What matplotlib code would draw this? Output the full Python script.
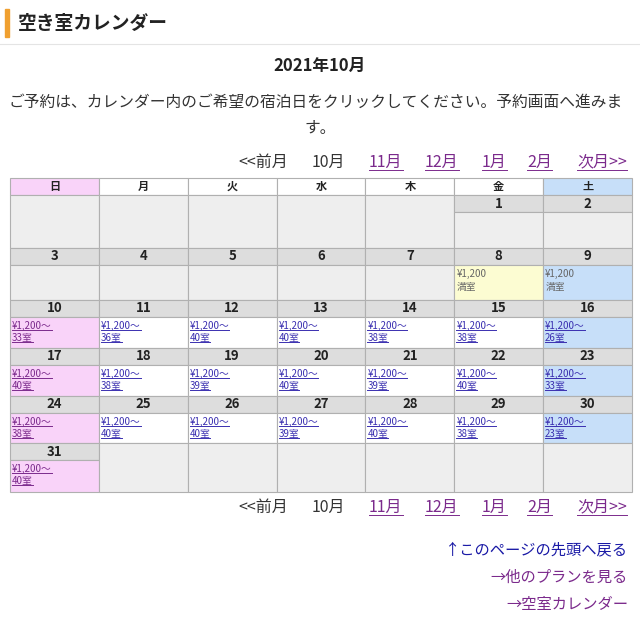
import matplotlib
matplotlib.use("Agg")
import matplotlib.pyplot as plt
from matplotlib.patches import Rectangle

plt.rcParams["font.family"] = "Noto Sans CJK JP"

TITLE = "空き室カレンダー"
MONTH = "2021年10月"
NOTE = ["ご予約は、カレンダー内のご希望の宿泊日をクリックしてください。予約画面へ進みま", "す。"]
WEEKDAYS = ["日", "月", "火", "水", "木", "金", "土"]
NAV_PLAIN = ["<<前月", "10月"]
NAV_LINKS = ["11月", "12月", "1月", "2月", "次月>>"]
DAYS = list(range(1, 32))
FIRST_COL = 5  # Oct 1 2021 is a Friday
PRICE = {8: "¥1,200", 9: "¥1,200"}
FULL_DAYS = [8, 9]
ROOMS = {10: 33, 11: 36, 12: 40, 13: 40, 14: 38, 15: 38, 16: 26, 17: 40, 18: 38,
         19: 39, 20: 40, 21: 39, 22: 40, 23: 33, 24: 38, 25: 40, 26: 40, 27: 39,
         28: 40, 29: 38, 30: 23, 31: 40}

LINK = "#3a2fb0"
VISITED = "#7b2a8c"
PINK, BLUE, YEL, GRAY, HDR = "#f9d3f9", "#c7dff9", "#fcfcd2", "#eeeeee", "#dddddd"

fig = plt.figure(figsize=(6.4, 6.24), dpi=100)
ax = fig.add_axes([0, 0, 1, 1])
ax.set_xlim(0, 640); ax.set_ylim(624, 0); ax.axis("off")
underlines = []

def txt(x, y, s, ul=False, **kw):
    t = ax.text(x, y, s, va="center", **kw)
    if ul:
        underlines.append(t)
    return t

# heading
ax.add_patch(Rectangle((5, 9), 4, 28, color="#f0a030"))
txt(18, 23, TITLE, fontsize=13.5, fontweight="bold", color="#222222")
ax.plot([0, 640], [44, 44], color="#e4e4e4", lw=0.8)
txt(320, 66, MONTH, ha="center", fontsize=12, fontweight="bold", color="#222222")
txt(9, 102, NOTE[0], fontsize=11.3, color="#333333")
txt(320, 128, NOTE[1], ha="center", fontsize=11.3, color="#333333")

def nav(y):
    txt(238, y, NAV_PLAIN[0], fontsize=11.5, color="#333333")
    txt(312, y, NAV_PLAIN[1], fontsize=11.5, color="#333333")
    for x, s in zip([369, 425, 482, 527, 577], NAV_LINKS):
        txt(x, y, s, ul=True, fontsize=11.5, color=VISITED)

nav(162)
nav(507)

# table
x0, cw = 10, (632 - 10) / 7
for c, w in enumerate(WEEKDAYS):
    fc = PINK if c == 0 else BLUE if c == 6 else "white"
    ax.add_patch(Rectangle((x0 + c * cw, 178), cw, 17, facecolor=fc, edgecolor="#b0b0b0", lw=0.8))
    txt(x0 + (c + 0.5) * cw, 186.5, w, ha="center", fontsize=8, fontweight="bold", color="#222222")

rows = [(195, 36), (248, 35), (300, 31), (348, 31), (396, 30), (443, 32)]
dh = 17
for r, (ry, h) in enumerate(rows):
    for c in range(7):
        d = r * 7 + c - FIRST_COL + 1
        cx = x0 + c * cw
        if d in DAYS:
            ax.add_patch(Rectangle((cx, ry), cw, dh, facecolor=HDR, edgecolor="#b0b0b0", lw=0.8))
            txt(cx + cw / 2, ry + dh / 2, str(d), ha="center", fontsize=9.5, fontweight="bold", color="#222222")
            if d in ROOMS:
                fc = PINK if c == 0 else BLUE if c == 6 else "white"
            elif d in FULL_DAYS:
                fc = BLUE if c == 6 else YEL
            else:
                fc = GRAY
            ax.add_patch(Rectangle((cx, ry + dh), cw, h, facecolor=fc, edgecolor="#b0b0b0", lw=0.8))
            if d in ROOMS:
                col = VISITED if c == 0 else LINK
                txt(cx + 2, ry + dh + 9, "¥1,200〜", ul=True, fontsize=7, color=col)
                txt(cx + 2, ry + dh + 21, f"{ROOMS[d]}室", ul=True, fontsize=7, color=col)
            elif d in FULL_DAYS:
                txt(cx + 2, ry + dh + 9, PRICE[d], fontsize=7, color="#666666")
                txt(cx + 2, ry + dh + 22, "満室", fontsize=7, color="#666666")
        else:
            ax.add_patch(Rectangle((cx, ry), cw, dh + h, facecolor=GRAY, edgecolor="#b0b0b0", lw=0.8))

# footer links
txt(628, 550, "↑このページの先頭へ戻る", ha="right", fontsize=11, color="#1a1aa6")
txt(628, 577, "→他のプランを見る", ha="right", fontsize=11, color=VISITED)
txt(628, 604, "→空室カレンダー", ha="right", fontsize=11, color=VISITED)

fig.canvas.draw()
inv = ax.transData.inverted()
for t in underlines:
    bb = t.get_window_extent()
    (xa, ya), (xb, yb) = inv.transform([(bb.x0, bb.y0), (bb.x1, bb.y1)])
    ax.plot([xa, xb], [ya - 1, ya - 1], color=t.get_color(), lw=0.7)

fig.savefig("out.png", dpi=100)
